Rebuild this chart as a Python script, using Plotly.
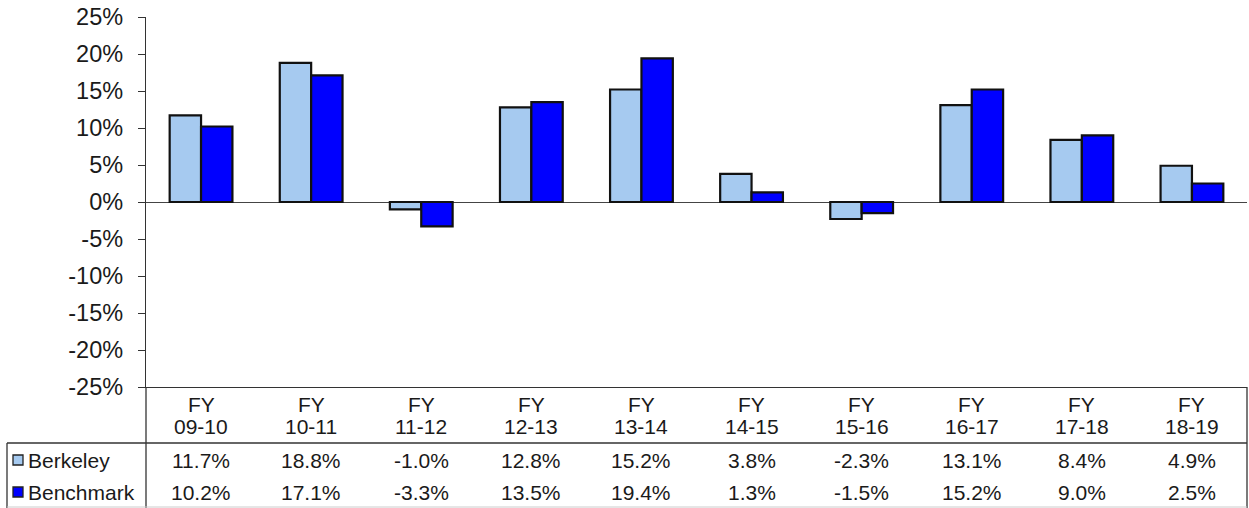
import plotly.graph_objects as go

categories = ["09-10", "10-11", "11-12", "12-13", "13-14", "14-15", "15-16", "16-17", "17-18", "18-19"]
berkeley = [11.7, 18.8, -1.0, 12.8, 15.2, 3.8, -2.3, 13.1, 8.4, 4.9]
benchmark = [10.2, 17.1, -3.3, 13.5, 19.4, 1.3, -1.5, 15.2, 9.0, 2.5]
series_names = ["Berkeley", "Benchmark"]
series_colors = ["#A6CAF0", "#0000FF"]
y_tick_values = [25, 20, 15, 10, 5, 0, -5, -10, -15, -20, -25]
y_tick_labels = ["25%", "20%", "15%", "10%", "5%", "0%", "-5%", "-10%", "-15%", "-20%", "-25%"]

W, H = 1249, 508
FONT = "Liberation Sans, Arial, sans-serif"
TXT = "#1a1a1a"
FS = 21
FS_TICK = 23.5

def px(x):
    return x / W

def py(y):
    return 1 - y / H

x_left, x_right = 146, 1247
y_top, y_bot = 17, 387

fig = go.Figure()
for name, vals, col in zip(series_names, [berkeley, benchmark], series_colors):
    fig.add_trace(go.Bar(
        x=categories, y=vals, name=name,
        marker=dict(color=col, line=dict(color="#111111", width=2.2)),
        hoverinfo="x+y",
    ))

annotations = []
for c in categories:
    annotations.append(dict(x=c, xref="x", y=py(404), yref="paper", text="FY",
                            showarrow=False, font=dict(family=FONT, size=FS, color=TXT),
                            xanchor="center", yanchor="middle"))
    annotations.append(dict(x=c, xref="x", y=py(426), yref="paper", text=c,
                            showarrow=False, font=dict(family=FONT, size=FS, color=TXT),
                            xanchor="center", yanchor="middle"))
row_y = [460, 492]
for vals, ry in zip([berkeley, benchmark], row_y):
    for c, v in zip(categories, vals):
        annotations.append(dict(x=c, xref="x", y=py(ry), yref="paper", text=f"{v:.1f}%",
                                showarrow=False, font=dict(family=FONT, size=FS, color=TXT),
                                xanchor="center", yanchor="middle"))
for name, ry in zip(series_names, row_y):
    annotations.append(dict(x=px(26), xref="paper", y=py(ry), yref="paper", text=name,
                            showarrow=False, font=dict(family=FONT, size=FS, color=TXT),
                            xanchor="left", yanchor="middle"))

line_col = "#333333"
shapes = []
def hline(y, x0, x1, color=line_col, w=1.3):
    shapes.append(dict(type="line", xref="paper", yref="paper", x0=px(x0), x1=px(x1),
                       y0=py(y), y1=py(y), line=dict(color=color, width=w)))
def vline(x, y0, y1, color=line_col, w=1.3):
    shapes.append(dict(type="line", xref="paper", yref="paper", x0=px(x), x1=px(x),
                       y0=py(y0), y1=py(y1), line=dict(color=color, width=w)))

vline(x_left, y_bot, 508)
hline(443, 7, x_right)
vline(7, 443, 508)
vline(x_right, y_bot, 508)
hline(507, 7, x_right, color="#cccccc", w=1)

for col, ry in zip(series_colors, row_y):
    shapes.append(dict(type="rect", xref="paper", yref="paper",
                       x0=px(13), x1=px(23), y0=py(ry - 5), y1=py(ry + 5),
                       fillcolor=col, line=dict(color="#222222", width=1.3)))

fig.update_layout(
    width=W, height=H,
    margin=dict(l=0, r=0, t=0, b=0, pad=0, autoexpand=False),
    paper_bgcolor="white", plot_bgcolor="white",
    barmode="group", bargap=0.43, bargroupgap=0,
    showlegend=False,
    annotations=annotations, shapes=shapes,
    font=dict(family=FONT, size=FS, color=TXT),
)
fig.update_xaxes(
    type="category", range=[-0.5, 9.5],
    domain=[px(x_left), px(x_right)],
    showticklabels=False, ticks="", showgrid=False,
    showline=True, linecolor=line_col, linewidth=1.3,
    automargin=False,
)
fig.update_yaxes(
    range=[-25, 25], tickvals=y_tick_values, ticktext=y_tick_labels,
    domain=[py(y_bot), py(y_top)],
    ticks="outside", ticklen=7, tickcolor=line_col, tickwidth=1.3,
    showline=True, linecolor=line_col, linewidth=1.3,
    showgrid=False, zeroline=True, zerolinecolor="#444444", zerolinewidth=1.2,
    tickfont=dict(family=FONT, size=FS_TICK, color=TXT),
    ticklabelstandoff=10,
    automargin=False,
)

fig.write_html(
    "out.html",
    config={"displayModeBar": False},
    post_script="document.body.style.margin='0';document.body.style.overflow='hidden';",
)
